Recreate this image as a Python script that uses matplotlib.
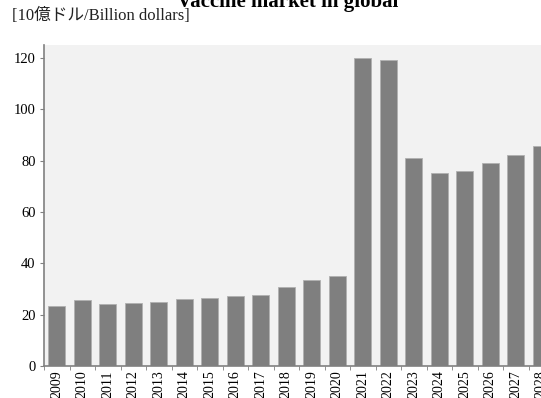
import matplotlib
matplotlib.use('Agg')
import matplotlib.pyplot as plt
import numpy as np

years = [str(y) for y in range(2009, 2029)]
market = [23.4, 25.7, 24.1, 24.4, 24.8, 26.1, 26.5, 27.3, 27.7, 30.8,
          33.4, 35.2, 120.1, 119.2, 81.0, 75.3, 76.0, 78.9, 82.3, 85.8]

serif = ['Liberation Serif', 'Noto Sans CJK JP', 'DejaVu Sans']
plt.rcParams['font.family'] = serif

fig = plt.figure(figsize=(5.41, 3.98), dpi=100)
ax = fig.add_axes([44 / 541, 32 / 398, 510 / 541, 321 / 398])
ax.set_facecolor('#f2f2f2')

x = np.arange(len(years))
ax.bar(x, market, width=0.67, color='#7f7f7f', edgecolor='#b0b0b0', linewidth=0.6, zorder=2)

ax.set_xlim(-0.5, len(years) - 0.5)
ax.set_ylim(0, 125)
ax.set_yticks([0, 20, 40, 60, 80, 100, 120])

# category labels under bars, tick marks between bars
ax.set_xticks(x)
ax.set_xticklabels(years, rotation=90, fontsize=10)
ax.tick_params(axis='x', length=0, pad=3)
ax.set_xticks(np.arange(-0.5, len(years)), minor=True)
ax.tick_params(axis='x', which='minor', length=3, color='#808080', direction='out')
ax.tick_params(axis='y', length=3, color='#808080', labelsize=10.5, pad=3)

for s in ['top', 'right']:
    ax.spines[s].set_visible(False)
for s in ['left', 'bottom']:
    ax.spines[s].set_color('#808080')
    ax.spines[s].set_linewidth(1.2)

fig.text(288 / 541, 1 - 7 / 398, 'Vaccine market in global', ha='center', va='baseline',
         fontsize=15, fontweight='bold')
fig.text(12 / 541, 1 - 20 / 398, '[10億ドル/Billion dollars]', ha='left', va='baseline',
         fontsize=12, color='#222222')

plt.savefig('out.png', dpi=100)
